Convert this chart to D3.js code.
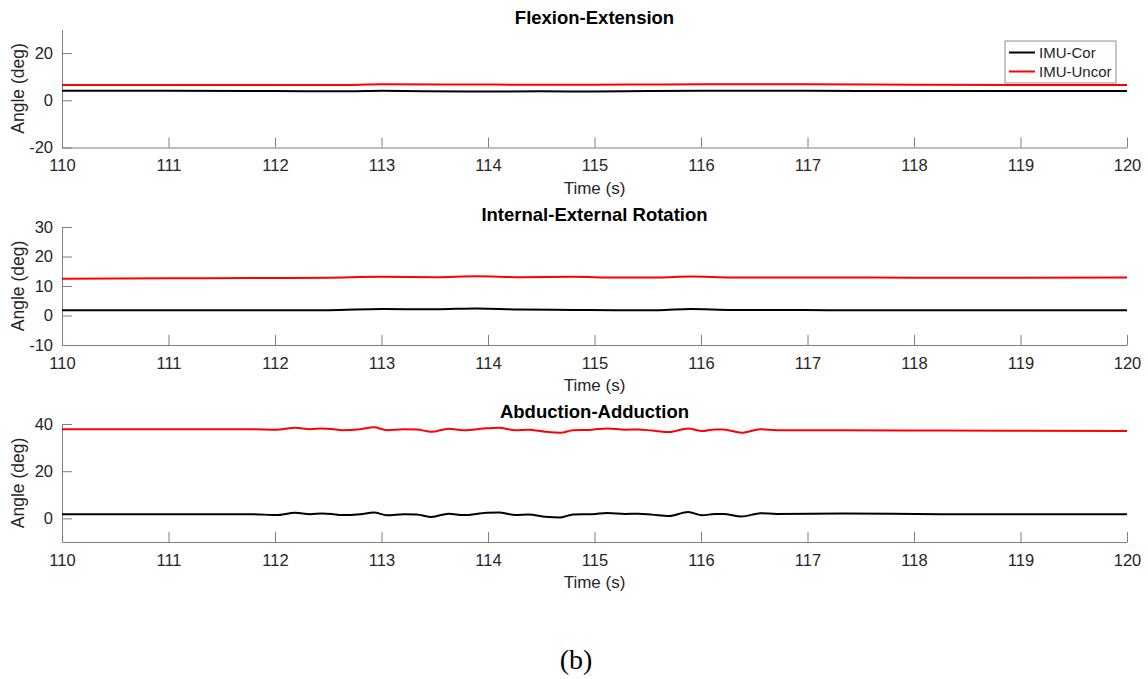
<!DOCTYPE html>
<html>
<head>
<meta charset="utf-8">
<script src="https://cdn.jsdelivr.net/npm/d3@7"></script>
<style>
  body { margin: 0; background: #fff; }
  text { font-family: 'Liberation Sans', Arial, sans-serif; }
</style>
</head>
<body>
<div id="chart"></div>
<script>
// time stamps (s) and angles (deg)
const t1 = [110, 111, 112, 112.7, 113, 113.8, 114.5, 115, 115.5, 116, 117, 118, 119, 120]
const cor1 = [4.0, 4.0, 3.9, 3.8, 4.0, 3.7, 3.8, 3.7, 3.9, 4.0, 4.0, 3.9, 3.9, 3.9]
const uncor1 = [6.5, 6.5, 6.5, 6.5, 6.8, 6.7, 6.6, 6.6, 6.7, 6.8, 6.8, 6.6, 6.5, 6.5]

const t2 = [110, 111, 112, 112.5, 113, 113.5, 113.9, 114.3, 114.8, 115.2, 115.6, 115.9, 116.3, 116.7, 117.2, 118, 119, 120]
const cor2 = [1.8, 1.8, 1.8, 1.8, 2.2, 2.1, 2.4, 2.0, 1.9, 1.8, 1.8, 2.2, 1.9, 1.9, 1.8, 1.8, 1.8, 1.8]
const uncor2 = [12.5, 12.6, 12.7, 12.8, 13.1, 13.0, 13.3, 13.0, 13.1, 12.9, 12.9, 13.2, 12.9, 12.9, 12.9, 12.8, 12.8, 12.9]

const t3 = [110, 111.8, 112.01, 112.19, 112.33, 112.44, 112.53, 112.63, 112.80, 112.93,
  113.05, 113.21, 113.33, 113.47, 113.63, 113.77, 113.99, 114.10, 114.26, 114.38,
  114.54, 114.68, 114.80, 114.98, 115.12, 115.29, 115.41, 115.54, 115.70, 115.88,
  116.01, 116.13, 116.21, 116.38, 116.56, 116.71, 117.34, 118.25, 119, 120]
const cor3 = [1.8, 1.8, 1.4, 2.4, 1.8, 2.1, 1.9, 1.4, 1.8, 2.5,
  1.3, 1.8, 1.7, 0.6, 2.0, 1.4, 2.4, 2.5, 1.4, 1.6,
  0.7, 0.4, 1.7, 1.8, 2.3, 1.9, 2.0, 1.6, 1.0, 2.7,
  1.3, 1.9, 1.9, 0.8, 2.2, 1.9, 2.1, 1.8, 1.8, 1.8]
const uncor3 = [37.8, 37.8, 37.6, 38.4, 37.8, 38.1, 37.9, 37.4, 37.8, 38.6,
  37.4, 37.8, 37.7, 36.7, 38.0, 37.4, 38.2, 38.4, 37.3, 37.6,
  36.7, 36.3, 37.4, 37.6, 38.1, 37.6, 37.7, 37.2, 36.6, 38.1,
  37.0, 37.7, 37.7, 36.3, 37.8, 37.4, 37.4, 37.2, 37.1, 37.0]

const titles = ['Flexion-Extension', 'Internal-External Rotation', 'Abduction-Adduction']
const yDomains = [[-20, 30], [-10, 30], [-10, 40]]
const yTicks = [[-20, 0, 20], [-10, 0, 10, 20, 30], [0, 20, 40]]
const xTicks = d3.range(110, 121, 1)
const seriesNames = ['IMU-Cor', 'IMU-Uncor']
const seriesColors = ['#000000', '#ff0000']

const panels = [
  { t: t1, cor: cor1, uncor: uncor1 },
  { t: t2, cor: cor2, uncor: uncor2 },
  { t: t3, cor: cor3, uncor: uncor3 }
]

const width = 1148
const height = 679
const left = 62
const right = 1127
const panelTops = [29.5, 227, 424]
const panelHeight = 118
const axisColor = '#7f7f7f'
const labelColor = '#262626'

const svg = d3.select('#chart')
  .append('svg')
    .attr('width', width)
    .attr('height', height)

const x = d3.scaleLinear().domain([110, 120]).range([left, right])

panels.forEach((p, i) => {
  const top = panelTops[i]
  const bottom = top + panelHeight
  const y = d3.scaleLinear().domain(yDomains[i]).range([bottom, top])

  const g = svg.append('g')

  // x axis, ticks pointing inwards like matlab
  const xAxis = g.append('g')
    .attr('transform', `translate(0,${bottom})`)
    .call(d3.axisBottom(x)
      .tickValues(xTicks)
      .tickFormat(d3.format('d'))
      .tickSizeInner(-10)
      .tickSizeOuter(0)
      .tickPadding(12))
  const yAxis = g.append('g')
    .attr('transform', `translate(${left},0)`)
    .call(d3.axisLeft(y)
      .tickValues(yTicks[i])
      .tickSizeInner(-10)
      .tickSizeOuter(0)
      .tickPadding(9))

  ;[xAxis, yAxis].forEach(ax => {
    ax.select('.domain').attr('stroke', axisColor)
    ax.selectAll('.tick line').attr('stroke', axisColor)
    ax.selectAll('.tick text')
      .attr('fill', labelColor)
      .style('font-size', '16.5px')
  })
  yAxis.selectAll('.tick text').text(d => d < 0 ? '-' + Math.abs(d) : d)

  const line = d3.line()
    .x(d => x(d[0]))
    .y(d => y(d[1]))
    .curve(d3.curveMonotoneX)

  ;[p.cor, p.uncor].forEach((vals, k) => {
    g.append('path')
      .datum(p.t.map((t, j) => [t, vals[j]]))
      .attr('fill', 'none')
      .attr('stroke', seriesColors[k])
      .attr('stroke-width', 2)
      .attr('d', line)
  })

  g.append('text')
    .attr('x', (left + right) / 2)
    .attr('y', top - 6)
    .attr('text-anchor', 'middle')
    .style('font-size', '18.5px')
    .style('font-weight', 'bold')
    .text(titles[i])

  g.append('text')
    .attr('x', (left + right) / 2)
    .attr('y', bottom + 46)
    .attr('text-anchor', 'middle')
    .attr('fill', labelColor)
    .style('font-size', '17px')
    .text('Time (s)')

  g.append('text')
    .attr('transform', `translate(24,${(top + bottom) / 2}) rotate(-90)`)
    .attr('text-anchor', 'middle')
    .attr('fill', labelColor)
    .style('font-size', '17.5px')
    .text('Angle (deg)')
})

// legend in the first panel
const legend = svg.append('g').attr('transform', 'translate(1005,41)')
legend.append('rect')
  .attr('width', 111)
  .attr('height', 42)
  .attr('fill', '#fff')
  .attr('stroke', '#8c8c8c')
  .attr('stroke-width', 1)
seriesNames.forEach((name, k) => {
  const row = legend.append('g').attr('transform', `translate(0,${11.5 + k * 19})`)
  row.append('line')
    .attr('x1', 4)
    .attr('x2', 30)
    .attr('stroke', seriesColors[k])
    .attr('stroke-width', 2)
  row.append('text')
    .attr('x', 34)
    .attr('dy', '0.35em')
    .attr('fill', labelColor)
    .style('font-size', '15px')
    .text(name)
})

svg.append('text')
  .attr('x', 576)
  .attr('y', 669)
  .attr('text-anchor', 'middle')
  .style('font-family', "'Liberation Serif', 'DejaVu Serif', serif")
  .style('font-size', '28px')
  .text('(b)')
</script>
</body>
</html>
